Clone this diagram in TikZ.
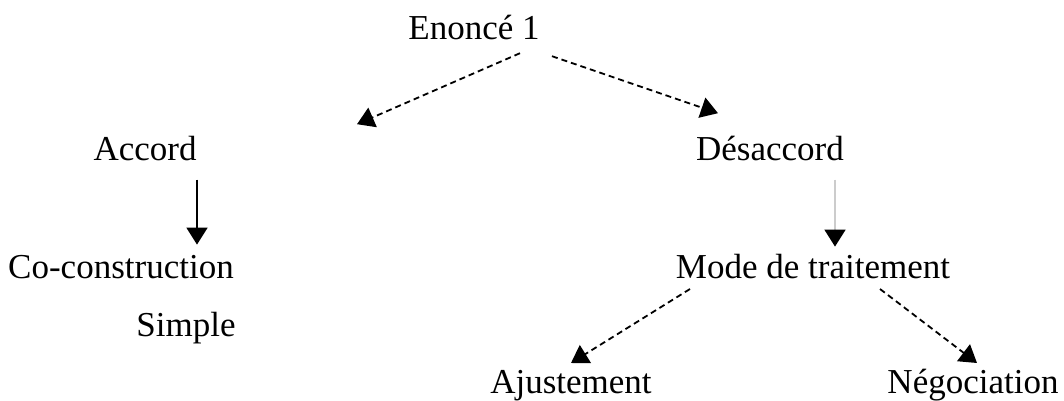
\documentclass[tikz,border=0pt]{standalone}
\usepackage{fontspec}
\setmainfont{Liberation Serif}
\usepackage{tikz}
\usetikzlibrary{arrows.meta,positioning,calc}

\begin{document}
\begin{tikzpicture}[
    x=1pt, y=-1pt,
    node distance=85pt,
    lbl/.style={inner sep=0pt, text height=24pt, text depth=8pt, font=\fontsize{35}{42}\selectfont},
    arr/.style={line width=1.8pt, -{Triangle[width=21pt,length=17pt]}},
    dash arr/.style={arr, dash pattern=on 6pt off 4pt},
    faint arr/.style={arr, draw=black!20, -{Triangle[width=21pt,length=17pt,fill=black,color=black]}}
]
\useasboundingbox (0,0) rectangle (1064,401);

% Top
\node[lbl] (enonce) at (474,32) {Enoncé 1};

% Second level
\node[lbl, below=88pt of enonce, xshift=-329pt] (accord) {Accord};
\node[lbl, below=88pt of enonce, xshift=296pt] (desaccord) {Désaccord};

% Left branch
\node[lbl, below=86pt of accord, xshift=-24pt] (cocon) {Co-construction};
\node[lbl, below=25pt of cocon, xshift=65pt] (simple) {Simple};

% Right branch
\node[lbl, below=86pt of desaccord, xshift=43pt] (mode) {Mode de traitement};
\node[lbl, below=82pt of mode, xshift=-242pt] (ajust) {Ajustement};
\node[lbl, below=82pt of mode, xshift=160pt] (nego) {Négociation};

% Arrows
\draw[dash arr] ([xshift=46pt,yshift=-5pt]enonce.south) -- ([xshift=212pt,yshift=12pt]accord.north);
\draw[dash arr] ([xshift=78pt,yshift=-8pt]enonce.south) -- ([xshift=-52pt,yshift=23pt]desaccord.north);
\draw[arr] ([xshift=52pt,yshift=-11pt]accord.south) -- ([xshift=76pt,yshift=10pt]cocon.north);
\draw[faint arr] ([xshift=65pt,yshift=-11pt]desaccord.south) -- ([xshift=22pt,yshift=8pt]mode.north);
\draw[dash arr] ([xshift=-123pt,yshift=-2pt]mode.south) -- ([xshift=0pt,yshift=6pt]ajust.north);
\draw[dash arr] ([xshift=67pt,yshift=-2pt]mode.south) -- ([xshift=4pt,yshift=6pt]nego.north);

\end{tikzpicture}
\end{document}
